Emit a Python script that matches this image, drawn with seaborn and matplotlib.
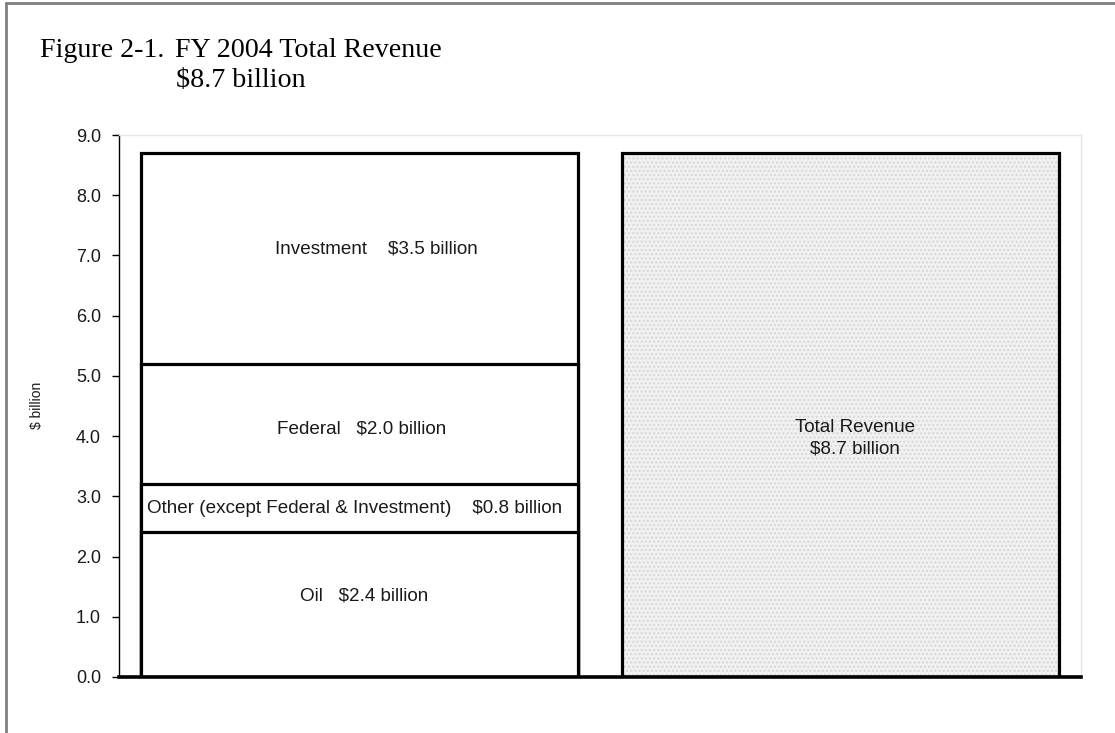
import matplotlib
matplotlib.use("Agg")
import matplotlib.pyplot as plt
import matplotlib.lines as mlines
import numpy as np
import pandas as pd
import seaborn as sns

# Revenue components, FY 2004 ($ billion), bottom to top
sources = ["Oil", "Other (except Federal & Investment)", "Federal", "Investment"]
source_values = [2.4, 0.8, 2.0, 3.5]
total_value = 8.7
columns = ["Sources", "Total"]
yticks = [0.0, 1.0, 2.0, 3.0, 4.0, 5.0, 6.0, 7.0, 8.0, 9.0]

sns.set_theme(style="white")
plt.rcParams["font.family"] = ["Liberation Sans", "DejaVu Sans"]

fig = plt.figure(figsize=(11.15, 7.33), dpi=100)
ax = fig.add_axes([0.1067, 0.0764, 0.8628, 0.7394])

bar_w = 0.91
edge_lw = 2.3
ink = "#1a1a1a"

# Stacked column: draw cumulative heights from the tallest down so each
# shorter bar sits over the lower part of the one before it.
tops = np.cumsum(source_values)
for top in tops[::-1]:
    df = pd.DataFrame({"col": ["Sources"], "val": [top]})
    sns.barplot(data=df, x="col", y="val", order=columns, width=bar_w,
                color="white", edgecolor="black", linewidth=edge_lw,
                saturation=1, ax=ax, zorder=3)

# Total column: speckled grey fill, then the black outline on top
tot = pd.DataFrame({"col": ["Total"], "val": [total_value]})
sns.barplot(data=tot, x="col", y="val", order=columns, width=bar_w,
            color="#f1f1f1", edgecolor="#d6d6d6", linewidth=0, hatch="....",
            saturation=1, ax=ax, zorder=3)
sns.barplot(data=tot, x="col", y="val", order=columns, width=bar_w,
            fill=False, edgecolor="black", linewidth=edge_lw,
            ax=ax, zorder=4)

# Segment labels (small nudges keep them off the exact middle, as laid out)
label_fs = 13.6
bottoms = np.concatenate([[0], tops[:-1]])
seg_text = [
    "Oil   $2.4 billion",
    "Other (except Federal & Investment)    $0.8 billion",
    "Federal   $2.0 billion",
    "Investment    $3.5 billion",
]
nudge_x = [0.01, -0.01, 0.005, 0.035]
nudge_y = [0.15, 0.0, -0.08, 0.15]
for txt, b, v, dx, dy in zip(seg_text, bottoms, source_values, nudge_x, nudge_y):
    ax.text(dx, b + v / 2 + dy, txt, ha="center", va="center",
            fontsize=label_fs, color=ink, zorder=5)

ax.text(1.03, total_value / 2 - 0.2, "Total Revenue", ha="center",
        va="center", fontsize=label_fs, color=ink, zorder=5)
ax.text(1.03, total_value / 2 - 0.56, f"${total_value:.1f} billion",
        ha="center", va="center", fontsize=label_fs, color=ink, zorder=5)

# Axes styling
ax.set_xlim(-0.5, 1.5)
ax.set_ylim(0, 9.0)
ax.set_yticks(yticks)
ax.set_yticklabels([f"{t:.1f}" for t in yticks], fontsize=13, color=ink)
ax.set_xticks([])
ax.set_xlabel("")
ax.set_ylabel("$ billion", fontsize=10, color=ink)
ax.yaxis.set_label_coords(-0.078, 0.502)
ax.tick_params(axis="y", direction="out", length=5, width=1, color="black",
               left=True, pad=8)

for side in ["top", "right"]:
    ax.spines[side].set_visible(True)
    ax.spines[side].set_color("#e6e6e6")
    ax.spines[side].set_linewidth(1)
ax.spines["left"].set_color("black")
ax.spines["left"].set_linewidth(1)
ax.spines["bottom"].set_color("black")
ax.spines["bottom"].set_linewidth(2.6)
ax.spines["bottom"].set_zorder(6)

# Title block
serif = ["Liberation Serif", "DejaVu Serif"]
title_fs = 20.2
fig.text(40 / 1115, 1 - 57 / 733, "Figure 2-1.", fontsize=title_fs,
         family=serif, color="black", ha="left", va="baseline")
fig.text(175 / 1115, 1 - 57 / 733, "FY 2004 Total Revenue", fontsize=title_fs,
         family=serif, color="black", ha="left", va="baseline")
fig.text(176 / 1115, 1 - 87 / 733, "$8.7 billion", fontsize=title_fs,
         family=serif, color="black", ha="left", va="baseline")

# Page frame along the top and left edges
fig.add_artist(mlines.Line2D([6 / 1115, 6 / 1115], [0, 1 - 3 / 733],
                             transform=fig.transFigure, color="#7f7f7f", lw=2))
fig.add_artist(mlines.Line2D([6 / 1115, 1], [1 - 3 / 733, 1 - 3 / 733],
                             transform=fig.transFigure, color="#7f7f7f", lw=2))

fig.savefig("out.png", dpi=100, facecolor="white")
